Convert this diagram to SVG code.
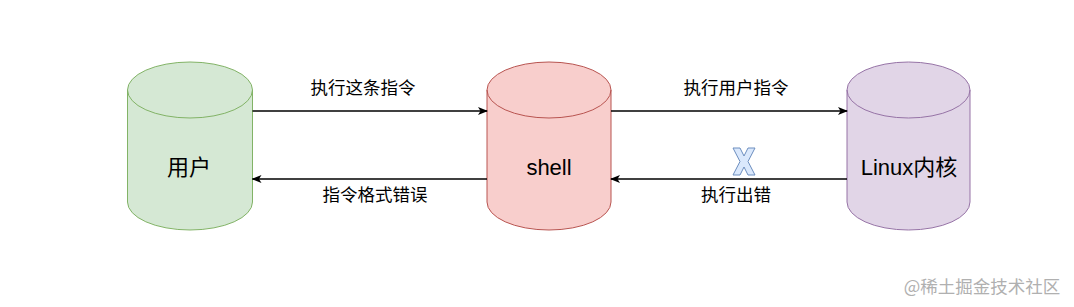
<svg xmlns="http://www.w3.org/2000/svg" width="1074" height="307" viewBox="0 0 1074 307">
<style>
.lbl{font-family:"Liberation Sans","Noto Sans CJK SC",sans-serif;font-size:17.5px;fill:#000;text-anchor:middle}
.node{font-family:"Liberation Sans","Noto Sans CJK SC",sans-serif;font-size:22px;fill:#000;text-anchor:middle}
.edge{stroke:#000;stroke-width:1.3;fill:none;marker-end:url(#arr)}
</style>
<defs>
<marker id="arr" viewBox="0 0 10 10" refX="9" refY="5" markerWidth="10" markerHeight="10" markerUnits="userSpaceOnUse" orient="auto">
<path d="M0,1 L10,5 L0,9 L2.5,5 Z" fill="#000"/>
</marker>
</defs>
<rect width="1074" height="307" fill="#fff"/>
<g id="user">
<path d="M127.5,90 a62.5,28 0 0,1 125,0 L252.5,202 a62.5,28 0 0,1 -125,0 Z" fill="#d5e8d4" stroke="#82b366"/>
<path d="M127.5,90 a62.5,28 0 0,0 125,0" fill="none" stroke="#82b366"/>
<text class="node" x="189" y="175">用户</text>
</g>
<g id="shell">
<path d="M487,90 a62,28 0 0,1 124,0 L611,202 a62,28 0 0,1 -124,0 Z" fill="#f8cecc" stroke="#b85450"/>
<path d="M487,90 a62,28 0 0,0 124,0" fill="none" stroke="#b85450"/>
<text class="node" x="549" y="175">shell</text>
</g>
<g id="kernel">
<path d="M847,90 a61.5,28 0 0,1 123,0 L970,202 a61.5,28 0 0,1 -123,0 Z" fill="#e1d5e7" stroke="#9673a6"/>
<path d="M847,90 a61.5,28 0 0,0 123,0" fill="none" stroke="#9673a6"/>
<text class="node" x="909" y="175">Linux内核</text>
</g>
<g id="connectors">
<line class="edge" x1="252.5" y1="111" x2="487" y2="111"/>
<line class="edge" x1="611" y1="111" x2="847" y2="111"/>
<line class="edge" x1="487" y1="179" x2="252.5" y2="179"/>
<line class="edge" x1="847" y1="179" x2="611" y2="179"/>
<text class="lbl" x="363" y="94">执行这条指令</text>
<text class="lbl" x="736" y="94">执行用户指令</text>
<text class="lbl" x="375" y="201">指令格式错误</text>
<text class="lbl" x="736" y="201">执行出错</text>
</g>
<g id="x-mark">
<path d="M733,148 L740,148 L744,156 L748,148 L755,148 L748,161.5 L755,175 L748,175 L744,167 L740,175 L733,175 L740,161.5 Z" fill="#dae8fc" stroke="#6c8ebf" stroke-width="1"/>
</g>
<text x="982" y="293" style="font-family:'Noto Sans CJK SC',sans-serif;font-size:17.5px;fill:#b0b0b0;text-anchor:middle">@稀土掘金技术社区</text>
</svg>
